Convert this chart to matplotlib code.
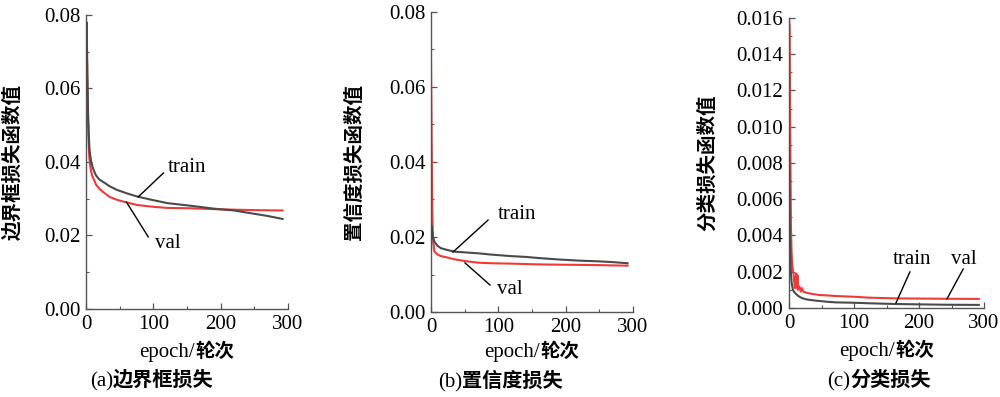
import matplotlib
matplotlib.use("Agg")
import matplotlib.pyplot as plt
from matplotlib.ticker import MultipleLocator, FormatStrFormatter

SERIF = "Liberation Serif"
CJK = "Noto Sans CJK SC"

# ---------------- data ----------------
# (a) bounding-box loss
ep_a_train = [0, 1, 2, 3, 4, 5, 6, 8, 10, 12, 15, 20, 27, 35, 46, 60, 76, 100, 121, 155, 190, 220, 250, 270, 292]
a_train = [0.066, 0.078, 0.064, 0.054, 0.048, 0.0440, 0.0420, 0.0398, 0.0385, 0.0375, 0.0363, 0.0352, 0.0344, 0.0334,
           0.0324, 0.0315, 0.0306, 0.0296, 0.0288, 0.0281, 0.0273, 0.0268, 0.0259, 0.0253, 0.0245]
ep_a_val = [0, 1, 2, 3, 4, 5, 7, 9, 12, 15, 20, 27, 35, 46, 60, 76, 100, 121, 155, 200, 250, 292]
a_val = [0.070, 0.077, 0.062, 0.051, 0.045, 0.041, 0.0380, 0.0363, 0.0351, 0.0338, 0.0327, 0.0316, 0.0305,
         0.0297, 0.0290, 0.0283, 0.0278, 0.0275, 0.0274, 0.0271, 0.0269, 0.0268]

# (b) confidence loss
ep_b_train = [0, 1, 2, 3, 5, 8, 10, 15, 25, 35, 50, 70, 90, 119, 140, 159, 190, 220, 250, 270, 292]
b_train = [0.0165, 0.0228, 0.0212, 0.0200, 0.0188, 0.0180, 0.0176, 0.0170, 0.0165, 0.0161, 0.0159, 0.01565,
           0.0153, 0.0149, 0.0147, 0.0144, 0.0140, 0.0137, 0.0135, 0.0133, 0.0130]
ep_b_val = [0, 1, 2, 3, 5, 8, 10, 15, 25, 35, 50, 70, 90, 119, 159, 200, 250, 292]
b_val = [0.067, 0.045, 0.026, 0.0195, 0.0161, 0.0156, 0.0153, 0.0149, 0.0145, 0.01405, 0.0136, 0.01315,
         0.0130, 0.0129, 0.0127, 0.0126, 0.0125, 0.01235]

# (c) classification loss
ep_c_train = [0, 1, 2, 3, 4, 6, 8, 10, 13, 16, 20, 26, 35, 46, 60, 72, 100, 123, 164, 200, 240, 292]
c_train = [0.0095, 0.0050, 0.0030, 0.0019, 0.0014, 0.00100, 0.00088, 0.00080, 0.00070, 0.00062, 0.00055,
           0.00048, 0.00043, 0.00039, 0.00034, 0.00031, 0.00029, 0.00026, 0.00022, 0.00020, 0.00018, 0.00017]
ep_c_val = [0, 1, 2, 3, 4, 5, 6, 7, 8, 9, 10, 11, 12, 13, 14, 16, 18, 20, 22, 26, 35, 46, 60, 72, 100, 123, 164,
            200, 240, 292]
c_val = [0.0160, 0.0155, 0.0090, 0.0045, 0.0030, 0.0024, 0.0021, 0.0019, 0.00145, 0.0011, 0.0012, 0.0019,
         0.0011, 0.0018, 0.0010, 0.0012, 0.0009, 0.0011, 0.0009, 0.00085, 0.00078, 0.00072, 0.00069, 0.00066,
         0.00062, 0.00057, 0.00053, 0.00052, 0.00051, 0.00050]

ylabels = ["边界框损失函数值", "置信度损失函数值", "分类损失函数值"]
caption_tags = ["(a)", "(b)", "(c)"]
caption_names = ["边界框损失", "置信度损失", "分类损失"]
xlabel_latin = "epoch/"
xlabel_cjk = "轮次"

# ---------------- styles ----------------
GRAY = "#4a4a4a"
RED = "#f03a3a"
SPINE = "#555555"
LAT_FS = 15

fig = plt.figure(figsize=(10, 3.97), dpi=100)

axes_rects = [
    [0.086, 0.2217, 0.202, 0.7406],
    [0.431, 0.2141, 0.202, 0.7557],
    [0.789, 0.2242, 0.195, 0.7305],
]
ylims = [(0, 0.08), (0, 0.08), (0, 0.016)]
ymajor = [0.02, 0.02, 0.002]
yfmt = ["%.2f", "%.2f", "%.3f"]
ylabel_x = [-0.317, -0.332, -0.369]

data = [
    (ep_a_train, a_train, ep_a_val, a_val),
    (ep_b_train, b_train, ep_b_val, b_val),
    (ep_c_train, c_train, ep_c_val, c_val),
]

# annotation: (train_line_start, train_line_end, train_text, val_line_start, val_line_end, val_text)
annots = [
    ((77.6, 0.0305), (115, 0.0370), (122, 0.0384), (60, 0.0291), (92.5, 0.0196), (103, 0.0177)),
    ((32.7, 0.0160), (84.7, 0.0245), (99.5, 0.0259), (50.5, 0.0131), (87.6, 0.0072), (98, 0.0061)),
    ((164.6, 0.00028), (186, 0.00199), (160, 0.0027), (243, 0.0005), (268, 0.00215), (249, 0.0027)),
]

axes = []
for i in range(3):
    ax = fig.add_axes(axes_rects[i])
    axes.append(ax)
    et, tr, ev, va = data[i]
    ax.plot(et, tr, color=GRAY, lw=1.5, zorder=3)
    ax.plot(ev, va, color=RED, lw=1.5, zorder=2)
    ax.set_xlim(0, 300)
    ax.set_ylim(*ylims[i])
    ax.xaxis.set_major_locator(MultipleLocator(100))
    ax.xaxis.set_minor_locator(MultipleLocator(50))
    ax.yaxis.set_major_locator(MultipleLocator(ymajor[i]))
    ax.yaxis.set_minor_locator(MultipleLocator(ymajor[i] / 2))
    ax.yaxis.set_major_formatter(FormatStrFormatter(yfmt[i]))
    for s in ["top", "right"]:
        ax.spines[s].set_visible(False)
    for s in ["left", "bottom"]:
        ax.spines[s].set_color(SPINE)
        ax.spines[s].set_linewidth(1.0)
    ax.tick_params(which="major", direction="in", length=4, width=0.9, color=SPINE,
                   labelsize=LAT_FS, pad=4)
    ax.tick_params(which="minor", direction="in", length=2.5, width=0.8, color=SPINE)
    for lab in ax.get_xticklabels() + ax.get_yticklabels():
        lab.set_fontfamily(SERIF)
    ax.set_ylabel(ylabels[i], family=CJK, fontweight="bold", fontsize=14)
    ax.yaxis.set_label_coords(ylabel_x[i], 0.5)

    ts, te, tt, vs, ve, vt = annots[i]
    ax.plot([ts[0], te[0]], [ts[1], te[1]], color="black", lw=1.0, zorder=4, clip_on=False)
    ax.plot([vs[0], ve[0]], [vs[1], ve[1]], color="black", lw=1.0, zorder=4, clip_on=False)
    ax.text(tt[0], tt[1], "train", family=SERIF, fontsize=LAT_FS, ha="left", va="center")
    ax.text(vt[0], vt[1], "val", family=SERIF, fontsize=LAT_FS, ha="left", va="center")

# x-labels and captions (Latin serif + bold CJK), in figure pixel fractions
W, H = 1000.0, 397.0
xl_split = [195, 540, 895]
xl_base = [357, 357, 356]
cap_split = [113, 462, 850]
cap_base = [386, 387, 386]
for i in range(3):
    fig.text(xl_split[i] / W, 1 - xl_base[i] / H, xlabel_latin, family=SERIF, fontsize=LAT_FS,
             ha="right", va="baseline")
    fig.text(xl_split[i] / W, 1 - xl_base[i] / H, xlabel_cjk, family=CJK, fontweight="bold",
             fontsize=14, ha="left", va="baseline")
    fig.text(cap_split[i] / W, 1 - cap_base[i] / H, caption_tags[i], family=SERIF, fontsize=LAT_FS,
             ha="right", va="baseline")
    fig.text(cap_split[i] / W, 1 - cap_base[i] / H, caption_names[i], family=CJK, fontweight="bold",
             fontsize=14.5, ha="left", va="baseline")

fig.savefig("out.png", dpi=100)
